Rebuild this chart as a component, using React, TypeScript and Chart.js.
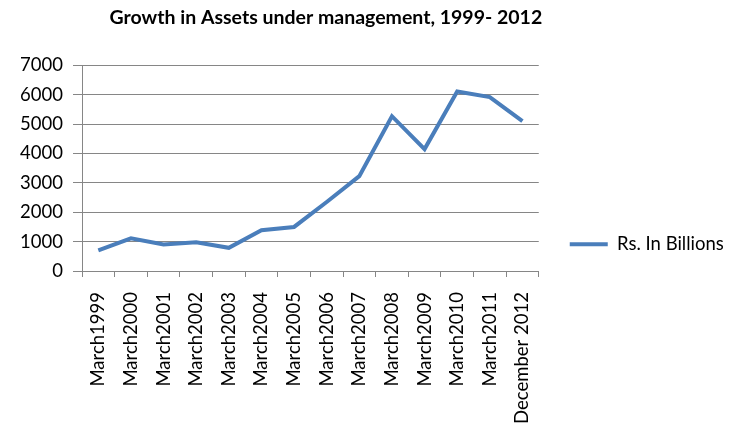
import React, { useEffect, useRef } from "react";
import { Chart, registerables } from "chart.js";

Chart.register(...registerables);

const categories = [
  "March1999",
  "March2000",
  "March2001",
  "March2002",
  "March2003",
  "March2004",
  "March2005",
  "March2006",
  "March2007",
  "March2008",
  "March2009",
  "March2010",
  "March2011",
  "December 2012",
];
const assetValues = [700, 1110, 900, 980, 790, 1390, 1500, 2350, 3230, 5270, 4150, 6110, 5920, 5100];
const seriesName = "Rs. In Billions";
const titleText = "Growth in Assets under management, 1999- 2012";
const yMin = 0;
const yMax = 7000;
const yStep = 1000;

const FONT = "Lato";
const LINE_COLOR = "#4A7EBB";
const GRID_COLOR = "#868686";
const LEGEND_EXTRA_WIDTH = 8;
const LEGEND_PADDING = 31;

// Give the legend box a little extra room so its label is never clipped,
// and centre the title over the plot plus the gap before the legend line.
const layoutTweaks = {
  id: "layoutTweaks",
  beforeLayout(chart: any) {
    const lg: any = chart.legend;
    if (lg && !lg.__widthPatched) {
      const orig = lg.fit;
      lg.fit = function (this: any) {
        orig.call(this);
        this.width += LEGEND_EXTRA_WIDTH;
      };
      lg.__widthPatched = true;
    }
  },
  afterLayout(chart: any) {
    const t: any = chart.titleBlock;
    const lg: any = chart.legend;
    if (t && lg) {
      t.right = lg.left + LEGEND_PADDING;
      t.width = t.right - t.left;
    }
  },
};

export default function App() {
  const ref = useRef<HTMLCanvasElement>(null);

  useEffect(() => {
    if (!ref.current) return;
    const chart = new Chart(ref.current, {
      type: "line",
      data: {
        labels: categories,
        datasets: [
          {
            label: seriesName,
            data: assetValues,
            borderColor: LINE_COLOR,
            backgroundColor: LINE_COLOR,
            borderWidth: 4,
            pointRadius: 0,
            pointHoverRadius: 0,
            pointBorderWidth: 4,
            tension: 0,
            fill: false,
          },
        ],
      },
      plugins: [layoutTweaks],
      options: {
        animation: false,
        responsive: false,
        maintainAspectRatio: false,
        events: [],
        layout: { padding: { top: 0, left: 0, right: 18, bottom: 0 } },
        plugins: {
          title: {
            display: true,
            text: titleText,
            color: "#000",
            fullSize: false,
            font: { family: FONT, size: 19.5, weight: "bold" },
            padding: { top: 6, bottom: 36 },
          },
          legend: {
            position: "right",
            align: "center",
            title: {
              display: true,
              text: "",
              font: { family: FONT, size: 12 },
              padding: { top: 34, bottom: 0 },
            },
            labels: {
              usePointStyle: true,
              pointStyle: "line",
              pointStyleWidth: 38,
              padding: LEGEND_PADDING,
              color: "#000",
              font: { family: FONT, size: 18.5 },
            },
          },
          tooltip: { enabled: false },
        },
        scales: {
          x: {
            offset: true,
            grid: {
              display: true,
              drawOnChartArea: false,
              offset: true,
              tickLength: 6,
              color: GRID_COLOR,
              tickColor: GRID_COLOR,
            },
            border: { display: true, color: GRID_COLOR },
            ticks: {
              autoSkip: false,
              maxRotation: 90,
              minRotation: 90,
              padding: 15,
              color: "#000",
              font: { family: FONT, size: 18.5 },
            },
            afterFit: (s: any) => {
              s.height = 169;
            },
          },
          y: {
            min: yMin,
            max: yMax,
            ticks: {
              stepSize: yStep,
              padding: 10,
              color: "#000",
              font: { family: FONT, size: 18.5 },
              callback: (v: any) => String(v),
            },
            grid: {
              color: GRID_COLOR,
              tickColor: GRID_COLOR,
              tickLength: 9,
            },
            border: { display: true, color: GRID_COLOR },
            afterFit: (s: any) => {
              s.width = 82;
            },
          },
        },
      },
    });
    return () => chart.destroy();
  }, []);

  return (
    <div style={{ position: "fixed", left: 0, top: 0, width: 747, height: 440, background: "#fff" }}>
      <canvas ref={ref} width={747} height={440} style={{ display: "block" }} />
    </div>
  );
}
